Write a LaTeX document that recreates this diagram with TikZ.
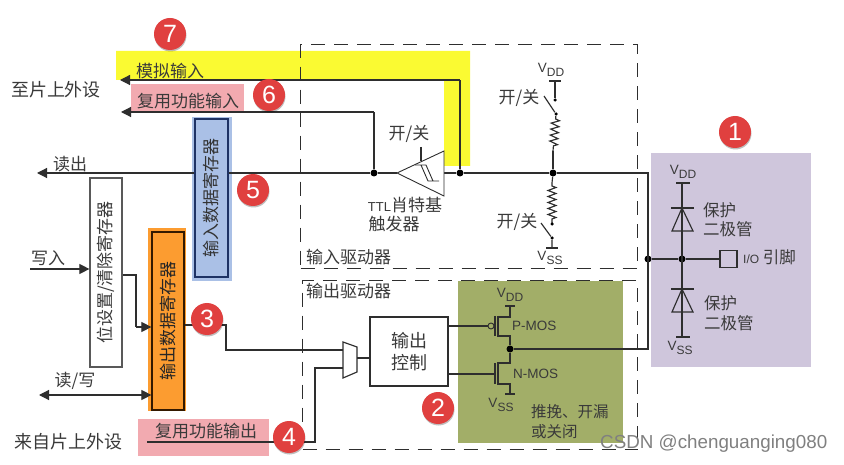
\documentclass[tikz,border=0pt]{standalone}
\usepackage{fontspec}
\setmainfont{Noto Sans CJK SC}
\newfontfamily\latinf{Liberation Sans}
\usetikzlibrary{arrows.meta,decorations.pathmorphing,shadows}
\definecolor{ink}{HTML}{2E2E2E}
\definecolor{txt}{HTML}{3A3A3A}
\definecolor{yel}{HTML}{FAFA32}
\definecolor{pinkb}{HTML}{F2AAB0}
\definecolor{olive}{HTML}{A2AE68}
\definecolor{purp}{HTML}{CFC6DC}
\definecolor{badge}{HTML}{E0403F}
\definecolor{bluef}{HTML}{AAC0E6}
\definecolor{orgf}{HTML}{FC9C30}
\newcommand{\fs}[1]{\fontsize{#1}{#1}\selectfont}
\newcommand{\Vdd}{{\latinf\fs{13.5}V\raisebox{-3.5pt}{\fs{12}DD}}}
\newcommand{\Vss}{{\latinf\fs{13.5}V\raisebox{-3.5pt}{\fs{12}SS}}}
\tikzset{
  wire/.style={draw=ink,line width=1.15pt},
  sig/.style={wire,-{Triangle[length=10pt,width=10pt]}},
  dsig/.style={wire,{Triangle[length=10pt,width=10pt]}-{Triangle[length=10pt,width=10pt]}},
  jdot/.style={circle,fill=black,inner sep=0pt,minimum size=7pt},
  sdot/.style={circle,fill=black,inner sep=0pt,minimum size=3.5pt},
  lab/.style={text=txt,font=\fs{17},inner sep=0pt},
  alab/.style={text=txt,font=\latinf\fs{13.5},inner sep=0pt},
  num/.style={circle,fill=badge,text=white,minimum size=32pt,inner sep=0pt,font=\latinf\fs{25},drop shadow={shadow xshift=0.5pt,shadow yshift=-1.5pt,opacity=.25,fill=black}},
  zone/.style={draw=ink,line width=1.1pt,dash pattern=on 14pt off 9pt},
  reg/.style={rotate=90,anchor=center,inner sep=0pt,font=\fs{17}},
  res/.style={wire,decorate,decoration={zigzag,segment length=6pt,amplitude=4pt,pre length=3pt,post length=3pt}},
  vbar/.style={wire,line width=1.3pt}
}
\begin{document}
\begin{tikzpicture}[x=1pt,y=-1pt]
\useasboundingbox (0,0) rectangle (844,465);
\fill[white] (0,0) rectangle (844,465);
% colour backgrounds
\fill[yel] (116,51) -- (470,51) -- (470,166) -- (444,166) -- (444,80) -- (116,80) -- cycle;
\fill[pinkb] (131,84) rectangle (244,111);
\fill[pinkb] (138,419) rectangle (269,456);
\fill[olive] (458,281) rectangle (623,443);
\fill[purp] (651,153) rectangle (811,367);
\fill[bluef] (192,117) rectangle (232,281);
\fill[orgf] (148,228) rectangle (186,410.5);
% driver zones
\node[zone,minimum width=337pt,minimum height=224pt,inner sep=0pt,anchor=north west] (indrv) at (300,44) {};
\node[zone,minimum width=335pt,minimum height=169pt,inner sep=0pt,anchor=north west] (outdrv) at (302,280) {};
\node[lab,anchor=west] at (306,257) {输入驱动器};
\node[lab,anchor=west] at (306,291) {输出驱动器};
% registers
\node[draw={rgb,255:red,30;green,50;blue,100},line width=1.3pt,fill=bluef,minimum width=33pt,minimum height=158pt,inner sep=0pt] (inreg) at (211.5,198) {};
\node[reg,text=black!80] at (inreg.center) {输入数据寄存器};
\node[draw=black!80!orange,line width=1.2pt,fill=orgf,minimum width=32pt,minimum height=178pt,inner sep=0pt] (outreg) at (168,321) {};
\node[reg,text=black!85] at (outreg.center) {输出数据寄存器};
\node[draw=black!65,line width=1.2pt,fill=white,minimum width=32pt,minimum height=189pt,inner sep=0pt] (setreg) at (106,272.5) {};
\node[reg,text=txt] at (setreg.center) {位设置/清除寄存器};
% coordinates
\coordinate (an) at (120,80);
\coordinate (an2) at (460,80);
\coordinate (alt) at (121,112);
\coordinate (alt2) at (374,112);
\coordinate (rd) at (37,173);
\node[jdot] (j1) at (374,173) {};
\node[jdot] (j2) at (460,173) {};
\node[jdot] (j3) at (553,173) {};
\node[jdot] (j4) at (648,259) {};
\node[jdot] (j5) at (682,259) {};
\node[jdot] (j6) at (510,349) {};
\coordinate (cr) at (648,173);
\coordinate (cb) at (648,349);
% schmitt trigger
\coordinate (tTip) at (397,173);
\coordinate (tA) at (444,151);
\coordinate (tB) at (444,196);
\coordinate (tR) at (444,173);
\coordinate (en) at (421,147);
\coordinate (enb) at (421,161);
% input wires
\draw[sig] (an2) -- (an);
\draw[wire] (j2) -- (an2);
\draw[sig] (alt2) -- (alt);
\draw[wire] (j1) -- (alt2);
\draw[sig] (inreg.west |- rd) -- (rd);
\draw[wire] (inreg.east |- rd) -- (j1) -- (tTip);
\draw[wire] (tR) -- (j2) -- (j3) -- (cr) -- (cb) -- (j6);
\draw[wire,line width=.9pt,fill=white] (tTip) -- (tA) -- (tB) -- cycle;
\draw[wire] (en) -- (enb);
\draw[wire,line width=.9pt] (415,165) -- (426,165) -- (433,181) -- (439,181) (421,165) -- (428,181) -- (435,181);
% pull-up and pull-down
\node[sdot] (ud) at (555,100) {};
\node[sdot] (us) at (556,114) {};
\coordinate (uv) at (555,81);
\coordinate (uva) at (549,81);\coordinate (uvb) at (561,81);
\coordinate (usw) at (544,96);
\draw[wire] (uv) -- (ud);
\draw[vbar] (uva) -- (uvb);
\draw[wire] (usw) -- (us);
\draw[res] (us) -- (553,151);
\draw[wire] (553,151) -- (j3);
\draw[wire] (j3) -- (552,183);
\draw[res] (552,183) -- (552,223);
\node[sdot] (ld) at (552,224) {};
\node[sdot] (ls) at (552,238) {};
\coordinate (lv) at (552,248);
\coordinate (lsw) at (541,223);
\draw[wire] (lsw) -- (ls) -- (lv);
\draw[vbar] (546,248) -- (558,248);
\node[alab] at (551,70) {\Vdd};
\node[alab] at (550,258) {\Vss};
\node[lab] at (519,98) {开/关};
\node[lab] at (517,222) {开/关};
\node[lab] at (409,134) {开/关};
\node[lab] at (405,205) {{\latinf\fs{13}TTL}肖特基};
\node[lab] at (394,224) {触发器};
% left side
\coordinate (wr) at (30,269);
\draw[sig] (wr) -- (setreg.west |- wr);
\coordinate (st) at (136,275);
\coordinate (st2) at (136,327);
\draw[wire] (setreg.east |- st) -- (st) -- (st2);
\draw[sig] (st2) -- (outreg.west |- st2);
\coordinate (rw) at (39,395);
\draw[dsig] (rw) -- (outreg.west |- rw);
\node[lab,font=\fs{18}] at (56,90) {至片上外设};
\node[lab] at (70,164) {读出};
\node[lab] at (48,258) {写入};
\node[lab] at (75,381) {读/写};
\node[lab,font=\fs{18}] at (68,442) {来自片上外设};
\node[lab] at (170,71) {模拟输入};
\node[lab] at (188,101) {复用功能输入};
\node[lab] at (206,431) {复用功能输出};
% output path
\node[draw=ink,line width=1.2pt,fill=white,minimum width=78pt,minimum height=69pt,inner sep=0pt,align=center,font=\fontsize{18}{22}\selectfont,text=txt] (ctl) at (409,351.5) {输出\\控制};
\coordinate (m1) at (343,342);\coordinate (m2) at (357,347);\coordinate (m3) at (357,372);\coordinate (m4) at (343,378);
\draw[wire] (m1) -- (m2) -- (m3) -- (m4) -- cycle;
\coordinate (mo) at (357,358);
\draw[wire] (mo) -- (ctl.west |- mo);
\coordinate (oa) at (226,325);
\coordinate (ob) at (226,350);
\coordinate (oc) at (343,350);
\draw[wire] (outreg.east |- oa) -- (oa) -- (ob) -- (oc);
\coordinate (af) at (147,442);
\coordinate (ag) at (315,442);
\coordinate (ah) at (315,368);
\coordinate (ai) at (343,368);
\draw[wire] (af) -- (ag) -- (ah) -- (ai);
% MOS
\coordinate (pg) at (448,326);
\node[circle,draw=ink,line width=.9pt,inner sep=0pt,minimum size=6pt] (pc) at (491,326) {};
\draw[wire] (ctl.east |- pg) -- (pc);
\draw[wire] (495,316) -- (495,336);
\draw[wire] (498,316) -- (498,337);
\draw[wire] (498,317) -- (510,317) -- (510,306);
\draw[vbar] (505,306) -- (515,306);
\draw[wire] (498,336) -- (510,336) -- (j6);
\coordinate (ng) at (495,374);
\draw[wire] (ctl.east |- ng) -- (ng);
\draw[wire] (495,363) -- (495,384);
\draw[wire] (498,362) -- (498,385);
\draw[wire] (498,363) -- (510,363) -- (j6);
\draw[wire] (498,384) -- (510,384) -- (510,394);
\draw[vbar] (505,394) -- (515,394);
\node[alab] at (510,295) {\Vdd};
\node[alab] at (501,405) {\Vss};
\node[alab,anchor=west] at (512,326) {P-MOS};
\node[alab,anchor=west] at (513,374) {N-MOS};
\node[lab,anchor=west,font=\fs{15.5}] at (531,412) {推挽、开漏};
\node[lab,anchor=west,font=\fs{15.5}] at (531,432) {或关闭};
% protection diodes
\coordinate (dt) at (682,183);
\coordinate (db) at (682,337);
\draw[wire] (dt) -- (db);
\draw[wire] (j4) -- (j5);
\draw[vbar] (676,183) -- (690,183);
\draw[vbar] (676,337) -- (690,337);
\draw[vbar] (671,208) -- (694,208);
\draw[wire] (682,208) -- (672,231) -- (693,231) -- cycle;
\draw[vbar] (671,289) -- (694,289);
\draw[wire] (682,289) -- (672,312) -- (693,312) -- cycle;
\node[draw=ink,line width=1.1pt,minimum size=17pt,inner sep=0pt] (pin) at (728.5,259) {};
\draw[wire] (j5) -- (pin);
\node[alab] at (683,172) {\Vdd};
\node[alab] at (680,348) {\Vss};
\node[lab,anchor=west,font=\fs{16.5}] at (703,210) {保护};
\node[lab,anchor=west,font=\fs{16.5}] at (703,229) {二极管};
\node[lab,anchor=west,font=\fs{16.5}] at (704,303) {保护};
\node[lab,anchor=west,font=\fs{16.5}] at (704,323) {二极管};
\node[lab,anchor=west,font=\fs{16.5}] at (743,257) {{\latinf\fs{12}I/O} 引脚};
% badges
\node[num] (b1) at (735,132) {1};
\node[num] (b2) at (438,408) {2};
\node[num] (b3) at (207,319) {3};
\node[num] (b4) at (289,437) {4};
\node[num] (b5) at (253,190) {5};
\node[num] (b6) at (269,95) {6};
\node[num] (b7) at (170,34) {7};
% watermark
\node[inner sep=0pt,anchor=west,text=black!50,font=\latinf\fs{18.8}] (wm) at (600,444) {CSDN @chenguanging080};
\end{tikzpicture}
\end{document}
